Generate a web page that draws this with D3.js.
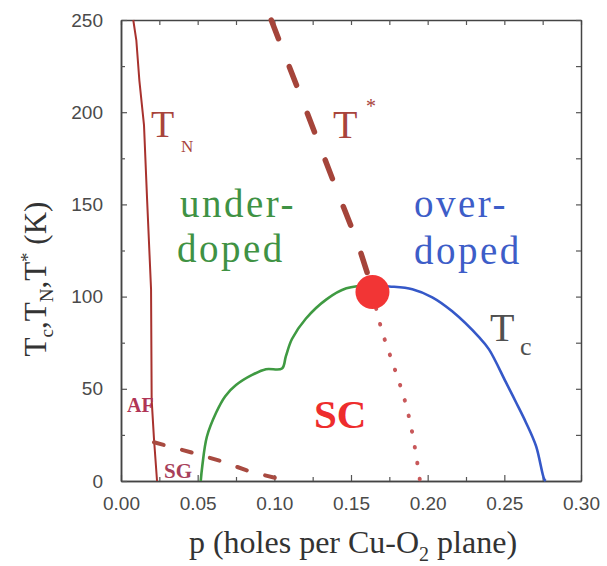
<!DOCTYPE html>
<html>
<head>
<meta charset="utf-8">
<script src="https://cdn.jsdelivr.net/npm/d3@7"></script>
<style>
  body { margin: 0; background: #fff; }
  svg { display: block; }
  .tick text { font-family: "Liberation Sans", Arial, sans-serif; font-size: 19px; fill: #4a4a4a; }
  .lbl { font-family: "Liberation Serif", "Times New Roman", serif; }
</style>
</head>
<body>
<div id="app"></div>
<script>
let svgWidth = 607, svgHeight = 566;

// axes
let xTicks = [0, 0.05, 0.10, 0.15, 0.20, 0.25, 0.30];
let xMinor = [0.025, 0.075, 0.125, 0.175, 0.225, 0.275];
let yTicks = [0, 50, 100, 150, 200, 250];
let yMinor = [25, 75, 125, 175, 225];

// Neel temperature T_N
let tnP = [0.008, 0.010, 0.012, 0.015, 0.017, 0.0196, 0.020, 0.0215, 0.0235];
let tnT = [250, 239, 217, 193, 153, 104, 44, 23, 0];

// pseudogap T* (dashed) and its dotted continuation under the dome
let tStarP = [0.098, 0.118, 0.142, 0.154, 0.164];
let tStarT = [250, 207, 155, 130, 104];
let tStarInP = [0.164, 0.170, 0.178, 0.185, 0.190, 0.195];
let tStarInT = [102, 82, 62, 44, 26, 0];

// spin glass boundary
let sgP = [0.0215, 0.05, 0.065, 0.085, 0.104];
let sgT = [21, 14.6, 10.8, 4.9, 1];

// Tc dome, underdoped side (green) and overdoped side (blue)
let underP = [0.052, 0.053, 0.056, 0.062, 0.068, 0.075, 0.0855, 0.0945, 0.105, 0.1075, 0.1115, 0.1205, 0.134, 0.147, 0.164];
let underT = [0, 8, 24, 37, 46, 52, 57.5, 60.6, 61, 67.6, 77, 88, 98.5, 104.5, 106];
let overP = [0.164, 0.175, 0.19, 0.203, 0.216, 0.2335, 0.24, 0.251, 0.2576, 0.264, 0.2707, 0.276, 0.277];
let overT = [106, 105.5, 104, 99.6, 92, 78, 71.4, 53.6, 42.7, 31.9, 18.9, 1, 0];

// optimal doping point
let optP = 0.164, optT = 102.5;

let x = d3.scaleLinear().domain([0, 0.3]).range([121, 581]);
let y = d3.scaleLinear().domain([0, 250]).range([481, 20]);

let svg = d3.select('#app').append('svg')
    .attr('width', svgWidth)
    .attr('height', svgHeight);

        //frame and ticks
function styleAxis(g) {
    g.select('.domain').attr('stroke', '#444').attr('stroke-width', 1.5);
    g.selectAll('.tick line').attr('stroke', '#555').attr('stroke-width', 1.2);
}

svg.append('g').attr('transform', 'translate(0,481)')
    .call(d3.axisBottom(x).tickValues(xTicks).tickFormat(d3.format('.2f')).tickSize(-6).tickSizeOuter(0).tickPadding(16))
    .call(styleAxis);
svg.append('g').attr('transform', 'translate(0,481)')
    .call(d3.axisBottom(x).tickValues(xMinor).tickFormat('').tickSize(-4).tickSizeOuter(0))
    .call(styleAxis);
svg.append('g').attr('transform', 'translate(0,20)')
    .call(d3.axisTop(x).tickValues(xTicks.concat(xMinor)).tickFormat('').tickSize(-5).tickSizeOuter(0))
    .call(styleAxis);

svg.append('g').attr('transform', 'translate(121,0)')
    .call(d3.axisLeft(y).tickValues(yTicks).tickSize(-6).tickSizeOuter(0).tickPadding(18))
    .call(styleAxis);
svg.append('g').attr('transform', 'translate(121,0)')
    .call(d3.axisLeft(y).tickValues(yMinor).tickFormat('').tickSize(-4).tickSizeOuter(0))
    .call(styleAxis);
svg.append('g').attr('transform', 'translate(581,0)')
    .call(d3.axisRight(y).tickValues(yTicks.concat(yMinor)).tickFormat('').tickSize(-5).tickSizeOuter(0))
    .call(styleAxis);

svg.selectAll('.tick text').attr('fill', '#4a4a4a');

        //curves
let line = d3.line().x(d => x(d[0])).y(d => y(d[1]));
let smooth = d3.line().x(d => x(d[0])).y(d => y(d[1])).curve(d3.curveCatmullRom.alpha(0.5));
let zip = (a, b) => a.map((v, i) => [v, b[i]]);

svg.append('path').datum(zip(tnP, tnT))
    .attr('d', line).attr('fill', 'none')
    .attr('stroke', '#a8322e').attr('stroke-width', 2);

svg.append('path').datum(zip(sgP, sgT))
    .attr('d', line).attr('fill', 'none')
    .attr('stroke', '#a84a40').attr('stroke-width', 4)
    .attr('stroke-linecap', 'round').attr('stroke-dasharray', '10,19');

svg.append('path').datum(zip(tStarInP, tStarInT))
    .attr('d', smooth).attr('fill', 'none')
    .attr('stroke', '#c8585a').attr('stroke-width', 4)
    .attr('stroke-linecap', 'round').attr('stroke-dasharray', '0.5,15.5');

svg.append('path').datum(zip(underP, underT))
    .attr('d', smooth).attr('fill', 'none')
    .attr('stroke', '#3f9a42').attr('stroke-width', 2.6);

svg.append('path').datum(zip(overP, overT))
    .attr('d', smooth).attr('fill', 'none')
    .attr('stroke', '#3558c8').attr('stroke-width', 2.6);

svg.append('circle')
    .attr('cx', x(optP)).attr('cy', y(optT)).attr('r', 17)
    .attr('fill', '#f23535');

svg.append('path').datum(zip(tStarP, tStarT))
    .attr('d', line).attr('fill', 'none')
    .attr('stroke', '#a5443a').attr('stroke-width', 5.5)
    .attr('stroke-linecap', 'round').attr('stroke-dasharray', '20,30');

        //labels inside the plot
function label(txt, px, py, size, color, extra) {
    let t = svg.append('text').attr('class', 'lbl')
        .attr('x', px).attr('y', py)
        .attr('font-size', size).attr('fill', color)
        .text(txt);
    if (extra) extra(t);
    return t;
}

label('T', 151, 137, 38, '#a8443c');
label('N', 181, 152, 17, '#a8443c');
label('T', 333, 138, 40, '#a8443c');
label('*', 366, 113, 20, '#a8443c');
label('under-', 180, 217, 39, '#3f9244', t => t.attr('letter-spacing', 2.5));
label('doped', 177, 262, 39, '#3f9244', t => t.attr('letter-spacing', 2.5));
label('over-', 414, 217, 39, '#3d5dc8', t => t.attr('letter-spacing', 2.5));
label('doped', 414, 264, 39, '#3d5dc8', t => t.attr('letter-spacing', 2.5));
label('T', 490, 341, 40, '#505050');
label('c', 520, 355, 26, '#505050');
label('SC', 314, 428, 41, '#ee2d2d', t => t.attr('font-weight', 'bold'));
label('AF', 127, 412, 20, '#b03556', t => t.attr('font-weight', 'bold'));
label('SG', 164, 478, 21, '#a8405a', t => t.attr('font-weight', 'bold'));

        //axis titles
let xl = svg.append('text').attr('class', 'lbl')
    .attr('x', 353).attr('y', 553)
    .attr('text-anchor', 'middle')
    .attr('font-size', 32).attr('fill', '#333');
xl.append('tspan').text('p (holes per Cu-O');
xl.append('tspan').attr('font-size', 20).attr('dy', 8).text('2');
xl.append('tspan').attr('dy', -8).text(' plane)');

let yl = svg.append('text').attr('class', 'lbl')
    .attr('transform', 'translate(46,279) rotate(-90)')
    .attr('text-anchor', 'middle')
    .attr('font-size', 31).attr('fill', '#333');
yl.append('tspan').text('T');
yl.append('tspan').attr('font-size', 19).attr('dy', 7).text('c');
yl.append('tspan').attr('dy', -7).text(',T');
yl.append('tspan').attr('font-size', 19).attr('dy', 7).text('N');
yl.append('tspan').attr('dy', -7).text(',T');
yl.append('tspan').attr('font-size', 19).attr('dy', -12).text('*');
yl.append('tspan').attr('dy', 12).text(' (K)');
</script>
</body>
</html>
